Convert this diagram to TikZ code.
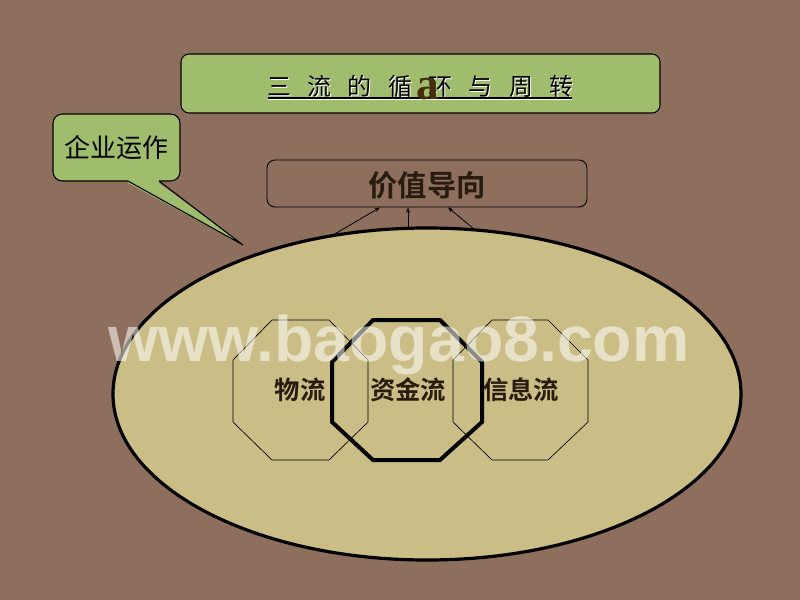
\documentclass[tikz,border=0pt]{standalone}
\usepackage{fontspec}
\usetikzlibrary{shapes.geometric,arrows.meta}
\newfontfamily\cjk{Noto Sans CJK SC}[BoldFont={Noto Sans CJK SC Bold}]
\newfontfamily\wmfont{Liberation Sans}
\newfontfamily\serifa{Liberation Serif}
\definecolor{bgbrown}{RGB}{142,110,92}
\definecolor{tgreen}{RGB}{160,189,110}
\definecolor{ellfill}{RGB}{202,189,134}
\definecolor{darktxt}{RGB}{40,28,14}
\definecolor{abrown}{RGB}{70,45,12}
\begin{document}
\begin{tikzpicture}[x=0.75pt,y=-0.75pt,
  titlebox/.style={draw=black, line width=0.8pt, fill=tgreen, rounded corners=6pt,
    minimum width=359.25pt, minimum height=44.25pt, inner sep=0pt},
  callbox/.style={draw=black, line width=0.8pt, fill=tgreen, rounded corners=7pt,
    minimum width=95.25pt, minimum height=50.25pt, inner sep=0pt},
  valbox/.style={draw=black, line width=0.7pt, rounded corners=6pt,
    minimum width=240pt, minimum height=35.25pt, inner sep=0pt},
  bigell/.style={draw=black, line width=2.4pt, fill=ellfill, ellipse,
    minimum width=471pt, minimum height=249pt, inner sep=0pt},
  thinoct/.style={draw=black, line width=0.5pt},
  thickoct/.style={draw=black, line width=3pt, line join=miter},
  flowtxt/.style={font=\cjk\bfseries\fontsize{19}{22}\selectfont, text=darktxt, inner sep=0pt},
  uparrow/.style={draw=black, line width=0.6pt, -{Stealth[length=4pt,width=3pt]}}
]
\useasboundingbox (0,0) rectangle (800,600);
\fill[bgbrown] (0,0) rectangle (800,600);

% title
\node[titlebox] (title) at (420.5,83.5) {};
\node[inner sep=0pt, text=white, font=\cjk\fontsize{18}{20}\selectfont] at (421.5,87) {三\hspace{0.68em}流\hspace{0.68em}的\hspace{0.68em}循\hspace{0.68em}环\hspace{0.68em}与\hspace{0.68em}周\hspace{0.68em}转};
\node[inner sep=0pt, text=black, font=\cjk\fontsize{18}{20}\selectfont] (ttext) at (420.5,86) {三\hspace{0.68em}流\hspace{0.68em}的\hspace{0.68em}循\hspace{0.68em}环\hspace{0.68em}与\hspace{0.68em}周\hspace{0.68em}转};
\coordinate (ul1) at (268,98);
\coordinate (ul2) at (572,98);
\draw[white, line width=0.8pt] ([yshift=-1pt]ul1) -- ([yshift=-1pt]ul2);
\draw[black, line width=0.8pt] (ul1) -- (ul2);
\node[anchor=base, inner sep=0pt, text=abrown, font=\serifa\bfseries\fontsize{34}{38}\selectfont] (stray) at (428,99) {a};

% callout
\node[callbox] (call) at (116.5,147.5) {};
\coordinate (tip) at (243,245);
\fill[tgreen] (128,183) -- (tip) -- (159,183) -- (159,178) -- (128,178) -- cycle;
\draw[black, line width=0.8pt] (128,181) -- (tip) -- (159,181);
\node[inner sep=0pt, text=black, font=\cjk\fontsize{19.5}{22}\selectfont] (calltext) at (116.5,147.5) {企业运作};

% value box
\node[valbox] (val) at (427,183.5) {};
\node[inner sep=0pt, text=darktxt, font=\cjk\bfseries\fontsize{22}{24}\selectfont] (valtext) at (427,185) {价值导向};

% ellipse
\node[bigell] (ell) at (427,394) {};

% arrows
\coordinate (s1) at (333,235);
\coordinate (s2) at (408,228);
\coordinate (s3) at (474,229);
\draw[uparrow] (s1) -- (val.south -| 380,0);
\draw[uparrow] (s2) -- (val.south -| 408,0);
\draw[uparrow] (s3) -- (val.south -| 448,0);

% octagons
\draw[thinoct] (272,320) -- (329,320) -- (368,360) -- (368,422) -- (329,460) -- (272,460) -- (233,422) -- (233,360) -- cycle;
\draw[thinoct] (492,320) -- (548,320) -- (588,360) -- (588,422) -- (548,460) -- (492,460) -- (453,422) -- (453,360) -- cycle;
\draw[thickoct] (373,320) -- (440,320) -- (482,362) -- (482,422) -- (440,460) -- (373,460) -- (332,422) -- (332,362) -- cycle;

\node[flowtxt] (wl) at (300,390) {物流};
\node[flowtxt] (zj) at (408,390) {资金流};
\node[flowtxt] (xx) at (521,390) {信息流};

% watermark
\node[anchor=base, inner sep=0pt, text=white, text opacity=0.55, font=\wmfont\bfseries\fontsize{48.3}{52}\selectfont] (wm) at (399,361) {www.baogao8.com};
\end{tikzpicture}
\end{document}
